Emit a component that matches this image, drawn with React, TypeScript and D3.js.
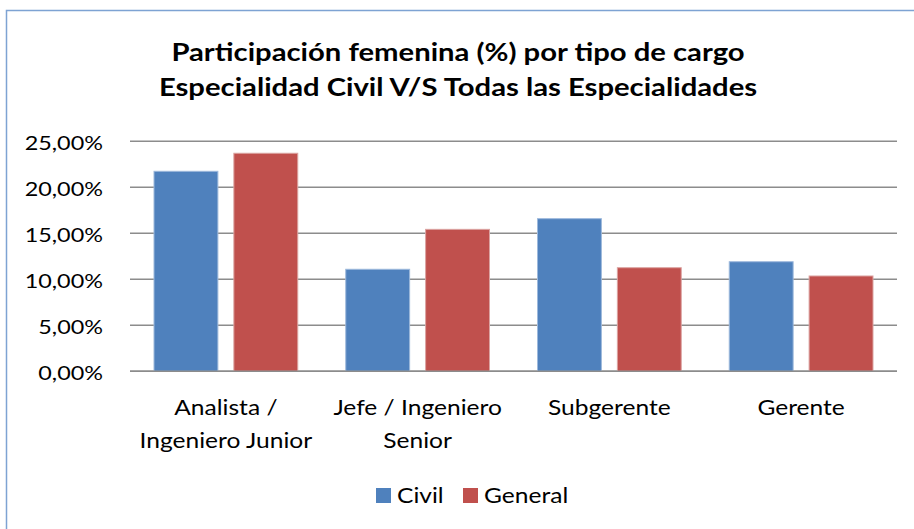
import React, { useEffect, useRef } from "react";
import * as d3 from "d3";

const categories = [
  ["Analista /", "Ingeniero Junior"],
  ["Jefe / Ingeniero", "Senior"],
  ["Subgerente"],
  ["Gerente"],
];
const seriesNames = ["Civil", "General"];
const civilValues = [21.74, 11.09, 16.59, 11.91];
const generalValues = [23.7, 15.43, 11.26, 10.36];
const yTicks = [0, 5, 10, 15, 20, 25];
const colors = ["#4F81BD", "#C0504D"];

const width = 914;
const height = 529;
const font = "Lato, 'Open Sans', sans-serif";
// the reference text is drawn a little wider than tall
const sx = 1.17;

const App = () => {
  const ref = useRef<SVGSVGElement>(null);

  useEffect(() => {
    const svg = d3.select(ref.current);
    svg.selectAll("*").remove();

    const addText = (
      x: number,
      y: number,
      str: string,
      size: number,
      anchor: string,
      bold = false,
    ) =>
      svg
        .append("text")
        .attr("transform", `translate(${x},${y}) scale(${sx},1)`)
        .attr("text-anchor", anchor)
        .attr("font-family", font)
        .attr("font-weight", bold ? "bold" : "normal")
        .attr("font-size", size)
        .attr("fill", "#000")
        .text(str);

    // outer frame
    svg
      .append("rect")
      .attr("x", 6.5)
      .attr("y", 10.5)
      .attr("width", 930)
      .attr("height", 540)
      .attr("fill", "#fff")
      .attr("stroke", "#7EA3D3")
      .attr("stroke-width", 1.5);

    const titleLines = [
      "Participación femenina (%) por tipo de cargo",
      "Especialidad Civil V/S Todas las Especialidades",
    ];
    titleLines.forEach((ln, i) => addText(458, 61 + i * 35, ln, 25, "middle", true));

    const x0 = d3
      .scaleBand<number>()
      .domain(d3.range(categories.length))
      .range([130, 897]);
    const x1 = d3
      .scaleBand<number>()
      .domain([0, 1])
      .range([24, x0.bandwidth() - 24])
      .paddingInner(0.2);
    const y = d3.scaleLinear().domain([0, 25]).range([371.3, 141.3]);

    svg
      .append("g")
      .selectAll("line")
      .data(yTicks)
      .enter()
      .append("line")
      .attr("x1", 130)
      .attr("x2", 897)
      .attr("y1", (d) => y(d))
      .attr("y2", (d) => y(d))
      .attr("stroke", "#8C8C8C")
      .attr("stroke-width", 1.5);

    yTicks.forEach((t) =>
      addText(103, y(t) + 8.5, d3.format(".2f")(t).replace(".", ",") + "%", 20, "end"),
    );

    const series = [civilValues, generalValues];
    series.forEach((vals, si) => {
      svg
        .append("g")
        .selectAll("rect")
        .data(vals)
        .enter()
        .append("rect")
        .attr("x", (_d, i) => (x0(i) ?? 0) + (x1(si) ?? 0))
        .attr("y", (d) => y(d))
        .attr("width", x1.bandwidth())
        .attr("height", (d) => y(0) - y(d))
        .attr("fill", colors[si])
        .attr("stroke", si === 0 ? "#9DB9DC" : "#DBA3A1")
        .attr("stroke-width", 1);
    });

    // baseline over the bars
    svg
      .append("line")
      .attr("x1", 130)
      .attr("x2", 897)
      .attr("y1", y(0))
      .attr("y2", y(0))
      .attr("stroke", "#8C8C8C")
      .attr("stroke-width", 1.5);

    categories.forEach((lines, i) => {
      const cx = (x0(i) ?? 0) + x0.bandwidth() / 2;
      lines.forEach((ln, j) => addText(cx, 415 + j * 33, ln, 21, "middle"));
    });

    const legendPos = [
      { box: 376, text: 397 },
      { box: 463, text: 484 },
    ];
    seriesNames.forEach((name, i) => {
      svg
        .append("rect")
        .attr("x", legendPos[i].box)
        .attr("y", 488)
        .attr("width", 15)
        .attr("height", 15)
        .attr("fill", colors[i]);
      addText(legendPos[i].text, 503, name, 21, "start");
    });
  }, []);

  return (
    <svg
      ref={ref}
      width={width}
      height={height}
      style={{ position: "absolute", left: 0, top: 0 }}
    />
  );
};

export default App;
